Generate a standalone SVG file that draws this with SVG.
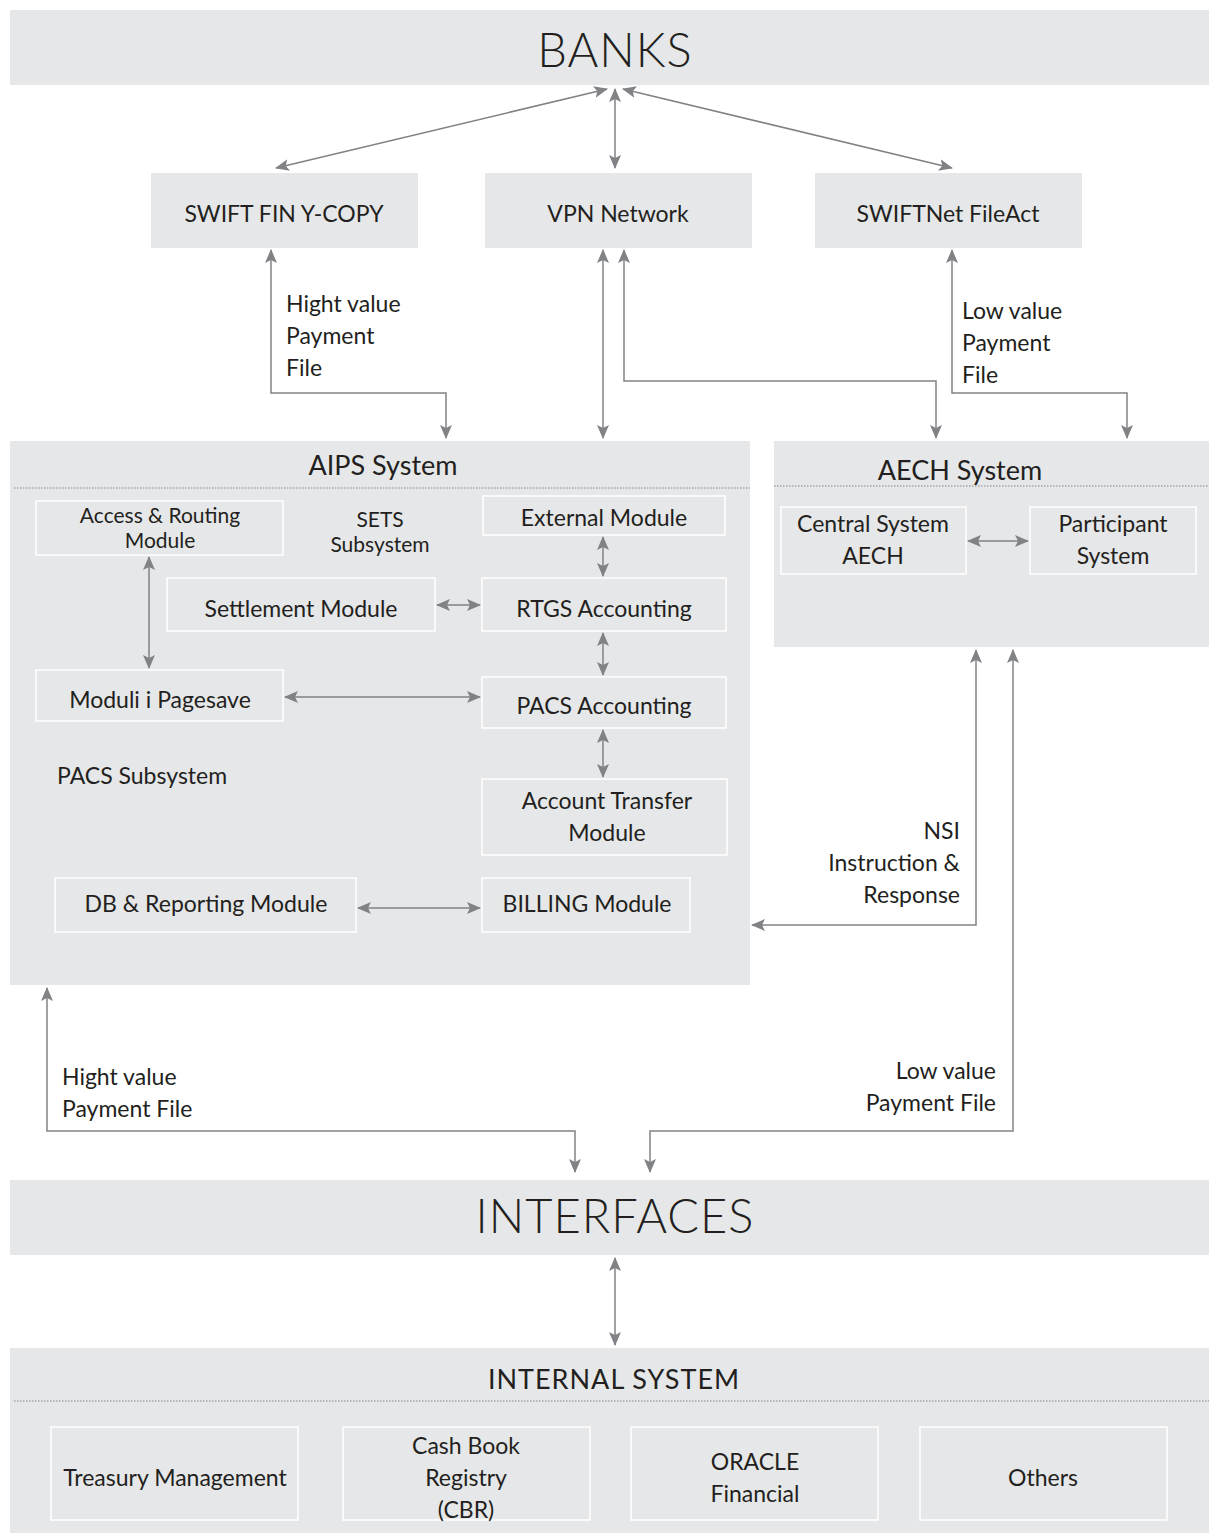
<svg xmlns="http://www.w3.org/2000/svg" width="1209" height="1533" viewBox="0 0 1209 1533">
<style>
.band{fill:#e6e7e8}
.inner{fill:none;stroke:#ffffff;stroke-width:1.5}
.t{font-family:Lato,"Open Sans",sans-serif;fill:#231f20;font-size:23px}
.c{text-anchor:middle}
.r{text-anchor:end}
.big{font-size:47px;letter-spacing:1px;font-weight:300}
.ttl{font-size:27px}
.sm{font-size:21px}
.dot{stroke:#808285;stroke-width:1;stroke-dasharray:1.5 1.5;fill:none}
.ln{fill:none;stroke:#808285;stroke-width:1.5}
.a2{marker-start:url(#ah);marker-end:url(#ah)}
.a1{marker-end:url(#ah)}
</style>
<defs>
<marker id="ah" markerUnits="userSpaceOnUse" markerWidth="16" markerHeight="12" refX="13" refY="6" orient="auto-start-reverse" viewBox="0 0 16 12">
<path d="M0,0 L14,6 L0,12 L3,6 Z" fill="#808285"/>
</marker>
</defs>
<rect width="1209" height="1533" fill="#ffffff"/>

<g id="banks">
<rect class="band" x="10" y="10" width="1199" height="75"/>
<text class="t c big" x="615" y="67">BANKS</text>
</g>
<g id="swift-fin">
<rect class="band" x="151" y="173" width="267" height="75"/>
<text class="t c" x="284" y="222">SWIFT FIN Y-COPY</text>
</g>
<g id="vpn">
<rect class="band" x="485" y="173" width="267" height="75"/>
<text class="t c" x="618" y="222">VPN Network</text>
</g>
<g id="swiftnet">
<rect class="band" x="815" y="173" width="267" height="75"/>
<text class="t c" x="948" y="222">SWIFTNet FileAct</text>
</g>

<g id="aips">
<rect class="band" x="10" y="441" width="740" height="544"/>
<text class="t c ttl" x="383" y="475">AIPS System</text>
<line class="dot" x1="14" y1="488" x2="750" y2="488"/>
<text class="t c sm" x="380" y="527">SETS</text>
<text class="t c sm" x="380" y="552">Subsystem</text>
<text class="t" x="57" y="784">PACS Subsystem</text>
</g>
<g id="access-routing">
<rect class="inner" x="36" y="501" width="247" height="54"/>
<text class="t c sm" x="160" y="523">Access &amp; Routing</text>
<text class="t c sm" x="160" y="548">Module</text>
</g>
<g id="external">
<rect class="inner" x="483" y="496" width="242" height="39"/>
<text class="t c" x="604" y="526">External Module</text>
</g>
<g id="settlement">
<rect class="inner" x="167" y="578" width="268" height="53"/>
<text class="t c" x="301" y="617">Settlement Module</text>
</g>
<g id="rtgs">
<rect class="inner" x="482" y="578" width="244" height="53"/>
<text class="t c" x="604" y="617">RTGS Accounting</text>
</g>
<g id="pagesave">
<rect class="inner" x="36" y="670" width="247" height="51"/>
<text class="t c" x="160" y="708">Moduli i Pagesave</text>
</g>
<g id="pacs">
<rect class="inner" x="482" y="677" width="244" height="51"/>
<text class="t c" x="604" y="714">PACS Accounting</text>
</g>
<g id="account-transfer">
<rect class="inner" x="482" y="779" width="245" height="76"/>
<text class="t c" x="607" y="809">Account Transfer</text>
<text class="t c" x="607" y="841">Module</text>
</g>
<g id="db-reporting">
<rect class="inner" x="55" y="878" width="301" height="54"/>
<text class="t c" x="206" y="912">DB &amp; Reporting Module</text>
</g>
<g id="billing">
<rect class="inner" x="482" y="878" width="208" height="54"/>
<text class="t c" x="587" y="912">BILLING Module</text>
</g>

<g id="aech">
<rect class="band" x="774" y="441" width="435" height="206"/>
<text class="t c ttl" x="960" y="480">AECH System</text>
<line class="dot" x1="774" y1="486" x2="1209" y2="486"/>
</g>
<g id="central-aech">
<rect class="inner" x="781" y="507" width="185" height="67"/>
<text class="t c" x="873" y="532">Central System</text>
<text class="t c" x="873" y="564">AECH</text>
</g>
<g id="participant">
<rect class="inner" x="1030" y="507" width="166" height="67"/>
<text class="t c" x="1113" y="532">Participant</text>
<text class="t c" x="1113" y="564">System</text>
</g>

<g id="interfaces">
<rect class="band" x="10" y="1180" width="1199" height="75"/>
<text class="t c big" x="615" y="1233">INTERFACES</text>
</g>

<g id="internal">
<rect class="band" x="10" y="1348" width="1199" height="185"/>
<text class="t c ttl" x="614" y="1389" style="letter-spacing:1px">INTERNAL SYSTEM</text>
<line class="dot" x1="14" y1="1401" x2="1209" y2="1401"/>
</g>
<g id="treasury">
<rect class="inner" x="51" y="1427" width="247" height="93"/>
<text class="t c" x="175" y="1486">Treasury Management</text>
</g>
<g id="cbr">
<rect class="inner" x="343" y="1427" width="247" height="93"/>
<text class="t c" x="466" y="1454">Cash Book</text>
<text class="t c" x="466" y="1486">Registry</text>
<text class="t c" x="466" y="1518">(CBR)</text>
</g>
<g id="oracle">
<rect class="inner" x="631" y="1427" width="247" height="93"/>
<text class="t c" x="755" y="1470">ORACLE</text>
<text class="t c" x="755" y="1502">Financial</text>
</g>
<g id="others">
<rect class="inner" x="920" y="1427" width="247" height="93"/>
<text class="t c" x="1043" y="1486">Others</text>
</g>

<g id="connectors">
<line class="ln a2" x1="607" y1="89" x2="276" y2="168"/>
<line class="ln a2" x1="615" y1="89" x2="615" y2="168"/>
<line class="ln a2" x1="623" y1="89" x2="952" y2="168"/>

<polyline class="ln a2" points="271,250 271,393 446,393 446,438"/>
<line class="ln a2" x1="603" y1="250" x2="603" y2="438"/>
<polyline class="ln a2" points="624,250 624,381 936,381 936,438"/>
<polyline class="ln a2" points="952,250 952,393 1127,393 1127,438"/>

<line class="ln a2" x1="149" y1="557" x2="149" y2="668"/>
<line class="ln a2" x1="603" y1="537" x2="603" y2="576"/>
<line class="ln a2" x1="437" y1="605" x2="480" y2="605"/>
<line class="ln a2" x1="603" y1="633" x2="603" y2="675"/>
<line class="ln a2" x1="285" y1="697" x2="480" y2="697"/>
<line class="ln a2" x1="603" y1="730" x2="603" y2="777"/>
<line class="ln a2" x1="358" y1="908" x2="480" y2="908"/>

<line class="ln a2" x1="968" y1="541" x2="1028" y2="541"/>

<polyline class="ln a2" points="976,650 976,925 752,925"/>
<polyline class="ln a2" points="1013,650 1013,1131 650,1131 650,1172"/>
<polyline class="ln a2" points="47,988 47,1131 575,1131 575,1172"/>

<line class="ln a2" x1="615" y1="1258" x2="615" y2="1345"/>
</g>

<g id="labels">
<text class="t" x="286" y="312">Hight value</text>
<text class="t" x="286" y="344">Payment</text>
<text class="t" x="286" y="376">File</text>
<text class="t" x="962" y="319">Low value</text>
<text class="t" x="962" y="351">Payment</text>
<text class="t" x="962" y="383">File</text>
<text class="t r" x="960" y="839">NSI</text>
<text class="t r" x="960" y="871">Instruction &amp;</text>
<text class="t r" x="960" y="903">Response</text>
<text class="t r" x="996" y="1079">Low value</text>
<text class="t r" x="996" y="1111">Payment File</text>
<text class="t" x="62" y="1085">Hight value</text>
<text class="t" x="62" y="1117">Payment File</text>
</g>
</svg>
